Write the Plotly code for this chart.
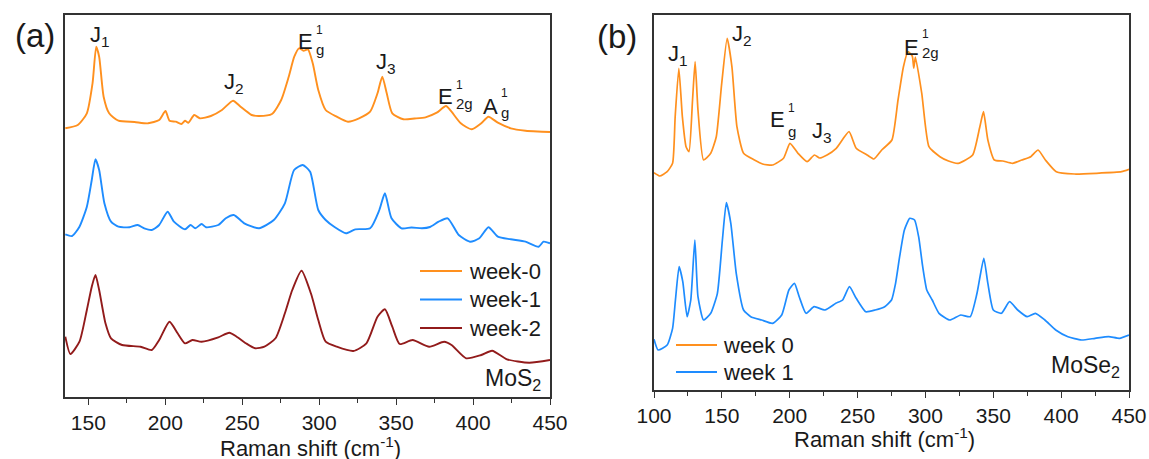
import plotly.graph_objects as go

# ---------------- Panel (a): MoS2 ----------------
MOS2_W0_X = [135, 143.1, 149, 152.7, 155.1, 157, 159.9, 163.5, 169.5, 180, 188.8, 196, 200.1, 202.7, 206.8, 210.4,
             212.8, 215, 218.8, 222.4, 229.6, 236.8, 244, 248.9, 256.1, 260.9, 269.3, 275.3, 280.2, 283.8, 286.9,
             289.8, 292.7, 295.8, 299.4, 304.2, 311.4, 318.7, 325.9, 333.1, 337.9, 341, 343.9, 347.5, 354.7, 362,
             369.1, 376.4, 382.4, 386, 392, 399.2, 405.3, 410, 416.1, 424.5, 434.1, 442, 450]
MOS2_W0_Y = [268.7, 272, 283.7, 313.7, 350.3, 340.3, 300.3, 283.7, 276.3, 275, 273.7, 277, 286, 276.3, 275.3, 273,
             276.3, 274.3, 282, 278.7, 281, 287, 296.3, 290.3, 282, 281, 283, 297, 320.3, 340.3, 348.7,
             346.3, 347.7, 333.7, 307, 287, 280.3, 275.3, 278.7, 285.3, 303.7, 320.3, 303.7, 283.7, 277.7, 278.5,
             279.7, 284.3, 291, 285.3, 273.7, 267.7, 273.7, 280.3, 274.3, 268.7, 266.3, 265.5, 265]

MOS2_W1_X = [135, 139.4, 144.2, 149, 152.2, 154.6, 157, 160.4, 164.7, 169.5, 176.7, 182, 186.3, 191.2, 196, 201.5,
             205.6, 212.8, 216.4, 219.5, 223.6, 226.5, 234.4, 239.3, 244.5, 251.3, 260.9, 270.5, 277.7, 283.7,
             289.3, 294.1, 299.4, 304.2, 310.2, 317.4, 323.5, 333.1, 339.1, 342.7, 347, 353.5, 360, 366.8, 372,
             377.6, 383.5, 390.7, 398, 404.1, 410, 416.1, 424.5, 434.1, 442.6, 445.8, 450]
MOS2_W1_Y = [162.7, 161, 170.3, 190.3, 217, 237.7, 227, 193.7, 175.3, 170.3, 169.7, 172, 168.7, 167, 172, 185.3,
             175.3, 167.7, 172, 168.7, 173, 169.7, 172, 178.7, 182, 173.7, 168.7, 177, 193.7, 227,
             232, 225.3, 187, 177, 169.7, 163.7, 167.7, 168.7, 187, 203.7, 178.7, 168.7, 169.5, 168.7, 170,
             175.3, 178.7, 162, 155.3, 158.7, 169.7, 160.3, 157.7, 155.3, 150.3, 155.3, 153.7]

MOS2_W2_X = [135, 138.3, 144.2, 149, 152.2, 154.6, 157, 161.1, 164.7, 171.9, 183.9, 191.2, 196, 202.7, 208, 212.8,
             217.6, 223.6, 234.4, 241.6, 246.4, 252.4, 258.4, 264.4, 271.6, 277.7, 282.5, 288.5, 294.6, 299.4,
             304.2, 311.4, 322.2, 330.7, 337.9, 342.7, 347.5, 352.3, 360.7, 371.5, 381.2, 386, 395.5, 405.3,
             412.4, 422, 436.5, 450]
MOS2_W2_Y = [60.3, 43, 55.3, 87, 110.3, 122, 107, 73.7, 58.7, 52, 50.3, 47, 57, 75.3, 63.7, 53.7,
             57, 55.3, 59.7, 64.3, 60.3, 53.7, 48.7, 50.3, 58.7, 83.7, 107, 126.3, 103.7, 77,
             55.3, 50.3, 46, 53.7, 80.3, 87.7, 70.3, 53, 57, 50.3, 55.3, 52, 38.7, 42,
             46.3, 37.7, 34.3, 37]

# ---------------- Panel (b): MoSe2 ----------------
MOSE2_W0_X = [100, 104.3, 109.7, 113.7, 115.6, 118.3, 120.9, 123.6, 125.8, 128.4, 130.3, 132.4, 136.5, 141.8,
              145.9, 149.9, 153.9, 157.4, 161.1, 166, 174, 180, 187.4, 195.4, 200.2, 206.1, 212.8, 218.2, 222,
              227.5, 234.3, 243.7, 249, 257, 262, 267.8, 275.3, 279.8, 283.8, 287.1, 290.3, 291.4, 292.6, 297.3,
              302.6, 310.7, 317, 324.1, 334.8, 340.1, 342.8, 346, 350.8, 357, 364.3, 371, 377.6, 383, 388.4,
              396.4, 409.8, 425.9, 444.6, 450]
MOSE2_W0_Y = [217.3, 214, 218.3, 226.7, 273.3, 321.7, 273.3, 243.3, 238.3, 290, 328.3, 280, 230, 236.7,
              253.3, 306.7, 351.7, 323.3, 263.3, 236.7, 230, 226, 225, 231.7, 246.7, 236.7, 228.3, 235, 232,
              235, 241.7, 258.3, 241.7, 235, 231, 240, 250, 290, 323.3, 338.3, 334, 322, 333, 296.7,
              243.3, 233.3, 229, 226.7, 235, 263.3, 278.3, 250, 230, 229, 226.7, 230, 233.3, 240, 230,
              218.3, 216, 216.7, 218.3, 220.7]

MOSE2_W1_X = [100, 103, 109.7, 113.7, 115.8, 118.5, 121.2, 124.4, 127.1, 130.1, 132.4, 136.5, 141.8, 146.7,
              150.4, 153.3, 156.6, 160.6, 166, 171.3, 179.3, 187.3, 194.1, 199.4, 203.5, 207, 212, 218, 226,
              234, 239, 244, 249, 256, 263, 270, 275, 278, 281, 284.5, 288.5, 292, 295, 298, 301, 305, 310,
              318, 326, 333, 338, 343, 346, 350, 356, 362, 368, 375, 381, 388, 396, 405, 415, 425, 435, 443, 450]
MOSE2_W1_Y = [50.7, 40, 45, 61.7, 90, 123.3, 108.3, 73.3, 90, 150, 93.3, 70, 76.7, 96.7,
              150, 187.3, 166.7, 116.7, 80, 73.3, 70, 66.7, 75, 100, 106.7, 93.3, 76.7, 83.3, 80,
              86.7, 90, 103.3, 91.7, 78.3, 80, 83.3, 90, 106.7, 133.3, 160, 171.7, 170, 153.3, 123.3, 100, 90, 76.7,
              70, 75, 73.3, 96.7, 131.7, 106.7, 80, 76.7, 88.3, 80, 73.3, 76.7, 70, 60, 53.3, 50, 51.7, 53.3, 51.7, 55]

X_TICKS_A = [150, 200, 250, 300, 350, 400, 450]
X_TICKS_B = [100, 150, 200, 250, 300, 350, 400, 450]
X_TITLE = "Raman shift (cm<sup>-1</sup>)"
LEGEND_A = ["week-0", "week-1", "week-2"]
LEGEND_B = ["week 0", "week 1"]

ORANGE = "#FF901E"
BLUE = "#1E8CFF"
DARKRED = "#921B1B"
AXIS = "#333333"
TXT = "#1a1a1a"
FONT = "Liberation Sans, Arial, sans-serif"

fig = go.Figure()
common = dict(mode="lines", line_shape="spline", showlegend=False)
fig.add_trace(go.Scatter(x=MOS2_W0_X, y=MOS2_W0_Y, name=LEGEND_A[0], line=dict(color=ORANGE, width=1.9, smoothing=0.6),
                         xaxis="x", yaxis="y", **common))
fig.add_trace(go.Scatter(x=MOS2_W1_X, y=MOS2_W1_Y, name=LEGEND_A[1], line=dict(color=BLUE, width=1.9, smoothing=0.6),
                         xaxis="x", yaxis="y", **common))
fig.add_trace(go.Scatter(x=MOS2_W2_X, y=MOS2_W2_Y, name=LEGEND_A[2], line=dict(color=DARKRED, width=1.9, smoothing=0.6),
                         xaxis="x", yaxis="y", **common))
fig.add_trace(go.Scatter(x=MOSE2_W0_X, y=MOSE2_W0_Y, name=LEGEND_B[0], line=dict(color=ORANGE, width=1.7, smoothing=0.5),
                         xaxis="x2", yaxis="y2", **common))
fig.add_trace(go.Scatter(x=MOSE2_W1_X, y=MOSE2_W1_Y, name=LEGEND_B[1], line=dict(color=BLUE, width=1.7, smoothing=0.5),
                         xaxis="x2", yaxis="y2", **common))

W, H = 1149, 459


def px(xp):
    return xp / W


def py(yp):
    return 1 - yp / H


xcommon = dict(showline=True, linecolor=AXIS, linewidth=1.6, mirror=True, ticks="outside", ticklen=6, tickwidth=1.4,
               tickcolor=AXIS, showgrid=False, zeroline=False, automargin=False,
               tickfont=dict(size=21, color=TXT, family=FONT),
               minor=dict(ticks="outside", ticklen=4, tickwidth=1.2, tickcolor=AXIS, dtick=25, showgrid=False))
ycommon = dict(showline=True, linecolor=AXIS, linewidth=1.6, mirror=True, ticks="", showticklabels=False,
               showgrid=False, zeroline=False, automargin=False)

fig.update_layout(
    width=W, height=H, margin=dict(l=0, r=0, t=0, b=0, autoexpand=False),
    paper_bgcolor="white", plot_bgcolor="white",
    font=dict(family=FONT, color=TXT),
    showlegend=False,
    xaxis=dict(domain=[px(65), px(550)], range=[134.8, 450], tickvals=X_TICKS_A, anchor="y", **xcommon),
    yaxis=dict(domain=[py(397), py(15)], range=[0, 382], anchor="x", **ycommon),
    xaxis2=dict(domain=[px(654), px(1129)], range=[100, 450], tickvals=X_TICKS_B, anchor="y2", **xcommon),
    yaxis2=dict(domain=[py(390), py(15)], range=[0, 375], anchor="x2", **ycommon),
)

ann = []
shapes = []


def lab(text, x, y, size=22, xref="x", yref="y", xanchor="center"):
    ann.append(dict(text=text, x=x, y=y, xref=xref, yref=yref, xanchor=xanchor, yanchor="middle",
                    showarrow=False, font=dict(size=size, family=FONT, color=TXT)))


# Axis titles
lab(X_TITLE, px(310), py(447), xref="paper", yref="paper")
lab(X_TITLE, px(884), py(438), xref="paper", yref="paper")

# Panel (a) peak labels
lab("J<sub>1</sub>", 157.6, 361)
lab("J<sub>2</sub>", 244.7, 314)
lab("E", 290.9, 356)
lab("1", 296.3, 367, size=12, xanchor="left")
lab("g", 296.3, 348, size=15, xanchor="left")
lab("J<sub>3</sub>", 343.5, 334)
lab("E", 381.9, 301)
lab("1", 387.3, 312, size=12, xanchor="left")
lab("2g", 387.3, 294, size=15, xanchor="left")
lab("A", 411.1, 291)
lab("1", 416.6, 304, size=12, xanchor="left")
lab("g", 416.6, 285, size=15, xanchor="left")
# Panel (b) peak labels
lab("J<sub>1</sub>", 117.7, 335, xref="x2", yref="y2")
lab("J<sub>2</sub>", 165, 355, xref="x2", yref="y2")
lab("E", 190.8, 271, xref="x2", yref="y2")
lab("1", 196.9, 282, size=12, xref="x2", yref="y2", xanchor="left")
lab("g", 196.9, 259, size=15, xref="x2", yref="y2", xanchor="left")
lab("J<sub>3</sub>", 224.1, 258, xref="x2", yref="y2")
lab("E", 289.8, 343, xref="x2", yref="y2")
lab("1", 296.1, 356, size=12, xref="x2", yref="y2", xanchor="left")
lab("2g", 296.1, 338, size=15, xref="x2", yref="y2", xanchor="left")

# Legends (drawn as line samples + text)
for name, color, yp in zip(LEGEND_A, [ORANGE, BLUE, DARKRED], [271, 299.5, 328]):
    shapes.append(dict(type="line", xref="paper", yref="paper", x0=px(420), x1=px(462), y0=py(yp), y1=py(yp),
                       line=dict(color=color, width=2)))
    ann.append(dict(text=name, x=px(467), y=py(yp), xref="paper", yref="paper", xanchor="left", yanchor="middle",
                    showarrow=False, font=dict(size=22, family=FONT, color=TXT)))
for name, color, yp in zip(LEGEND_B, [ORANGE, BLUE], [345, 372]):
    shapes.append(dict(type="line", xref="paper", yref="paper", x0=px(676), x1=px(717), y0=py(yp), y1=py(yp),
                       line=dict(color=color, width=2)))
    ann.append(dict(text=name, x=px(721), y=py(yp), xref="paper", yref="paper", xanchor="left", yanchor="middle",
                    showarrow=False, font=dict(size=22, family=FONT, color=TXT)))

# Sample names and panel letters
ann.append(dict(text="MoS<sub>2</sub>", x=px(543), y=py(379), xref="paper", yref="paper", xanchor="right",
                yanchor="middle", showarrow=False, font=dict(size=23, family=FONT, color=TXT)))
ann.append(dict(text="MoSe<sub>2</sub>", x=px(1122), y=py(366), xref="paper", yref="paper", xanchor="right",
                yanchor="middle", showarrow=False, font=dict(size=23, family=FONT, color=TXT)))
ann.append(dict(text="(a)", x=px(35), y=py(35), xref="paper", yref="paper", xanchor="center",
                yanchor="middle", showarrow=False, font=dict(size=33, family=FONT, color=TXT)))
ann.append(dict(text="(b)", x=px(617), y=py(37), xref="paper", yref="paper", xanchor="center",
                yanchor="middle", showarrow=False, font=dict(size=33, family=FONT, color=TXT)))

fig.update_layout(annotations=ann, shapes=shapes)
fig.write_html("out.html")
